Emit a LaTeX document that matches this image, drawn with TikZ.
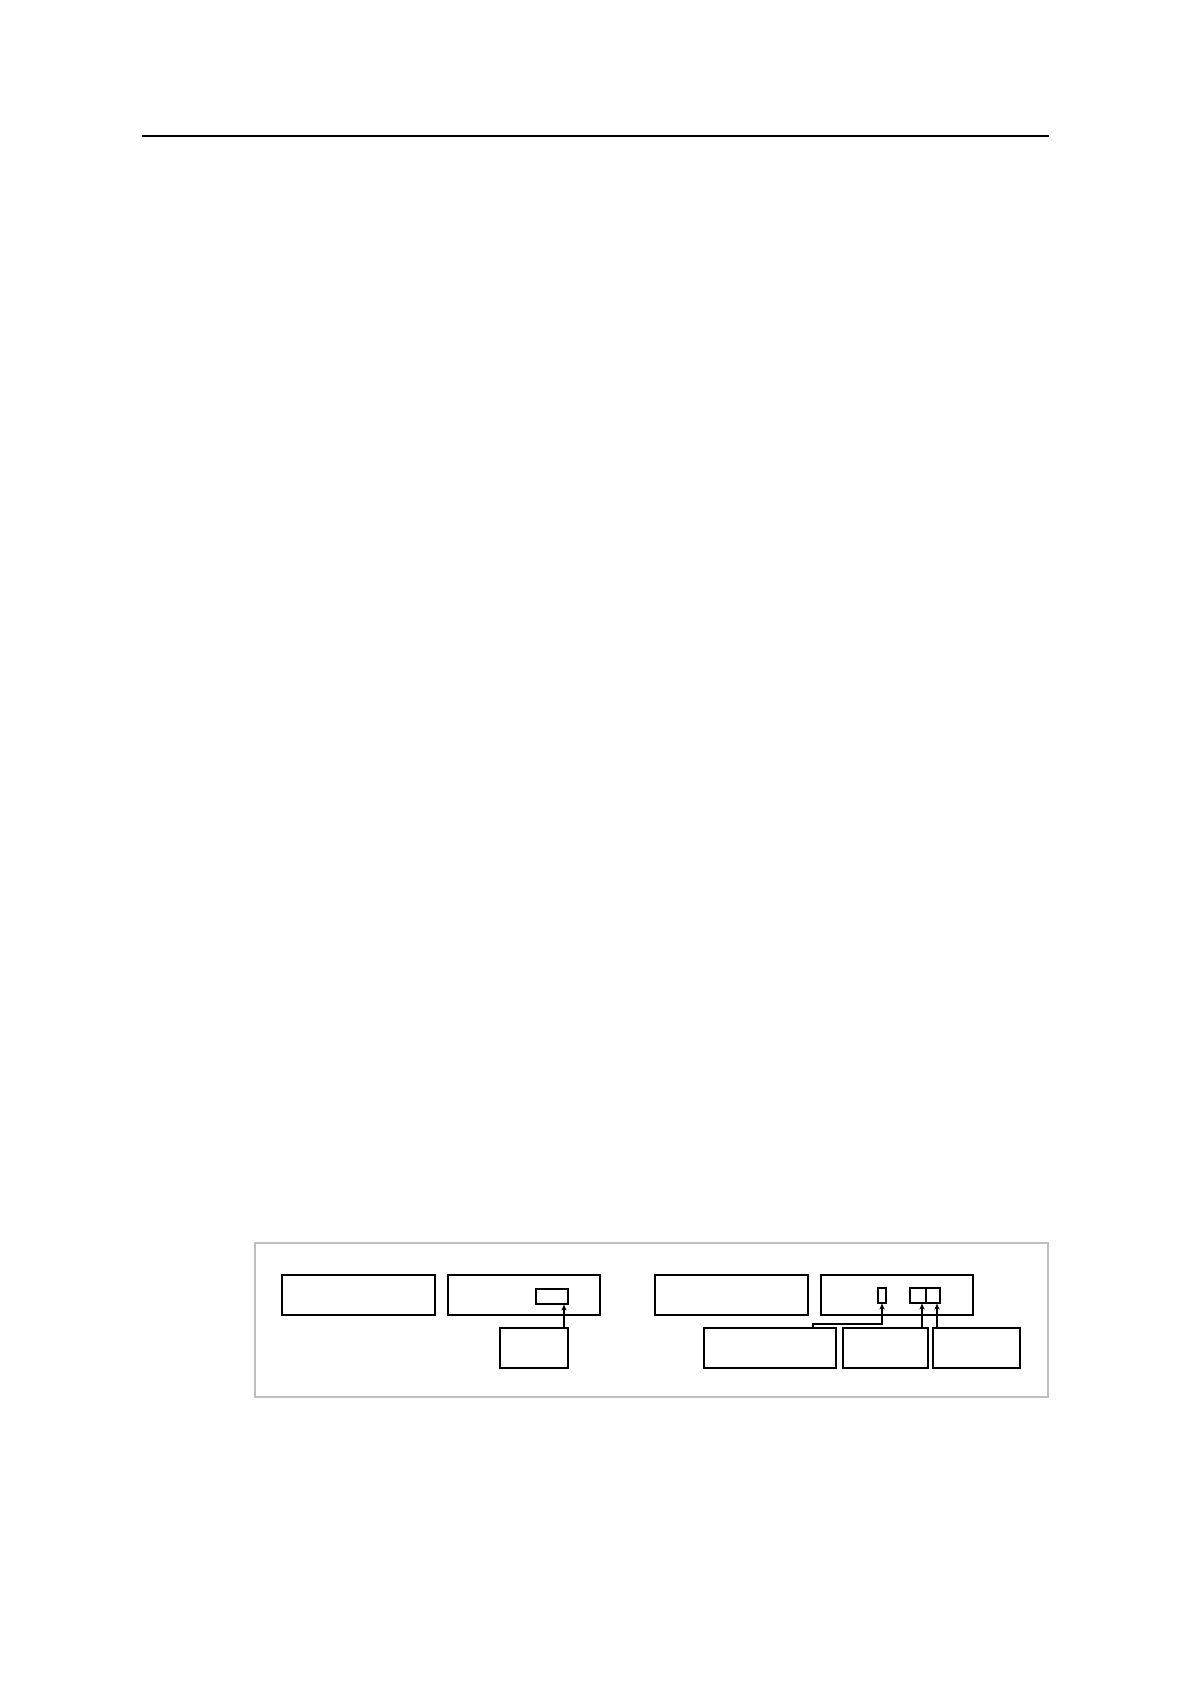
\documentclass[tikz,border=0pt]{standalone}
\usetikzlibrary{fit,arrows.meta}
\begin{document}
\begin{tikzpicture}[x=0.5pt,y=-0.5pt,
  bigbox/.style={draw=black,line width=1pt,inner sep=0pt,fit={#1}},
  smallbox/.style={draw=black,line width=0.6pt,inner sep=0pt,fit={#1}},
  conn/.style={draw=black,line width=0.6pt,-{Stealth[length=3pt,width=2.6pt]}}]
\useasboundingbox (0,0) rectangle (1191,1684);
% top rule
\coordinate (r1) at (142,136);
\coordinate (r2) at (1049,136);
\draw[line width=0.7pt] (r1) -- (r2);
% frame
\node[draw=black!25,line width=0.6pt,inner sep=0pt,fit={(255,1243)(1048,1397)}] (frame) {};
% left group
\node[bigbox={(282,1275)(435,1315)}] (A) {};
\node[bigbox={(448,1275)(600,1315)}] (B) {};
\node[smallbox={(536,1289)(568,1304)}] (sb) {};
\node[bigbox={(500,1328)(568,1368)}] (C) {};
% right group
\node[bigbox={(655,1275)(808,1315)}] (D) {};
\node[bigbox={(821,1275)(973,1315)}] (E) {};
\node[smallbox={(878,1288)(886,1303)}] (tb) {};
\node[smallbox={(910,1288)(926,1303)}] (db1) {};
\node[smallbox={(926,1288)(940,1303)}] (db2) {};
\node[bigbox={(704,1328)(836,1368)}] (F) {};
\node[bigbox={(843,1328)(928,1368)}] (G) {};
\node[bigbox={(933,1328)(1020,1368)}] (H) {};
% connectors
\coordinate (xc) at (564,0);
\draw[conn] (xc |- C.north) -- (xc |- sb.south);
\coordinate (xf) at (813,0);
\coordinate (xt) at (882,0);
\coordinate (yb) at (0,1324);
\draw[conn] (xf |- F.north) -- (xf |- yb) -- (xt |- yb) -- (xt |- tb.south);
\coordinate (xg) at (922,0);
\draw[conn] (xg |- G.north) -- (xg |- db1.south);
\coordinate (xh) at (937,0);
\draw[conn] (xh |- H.north) -- (xh |- db2.south);
\end{tikzpicture}
\end{document}
